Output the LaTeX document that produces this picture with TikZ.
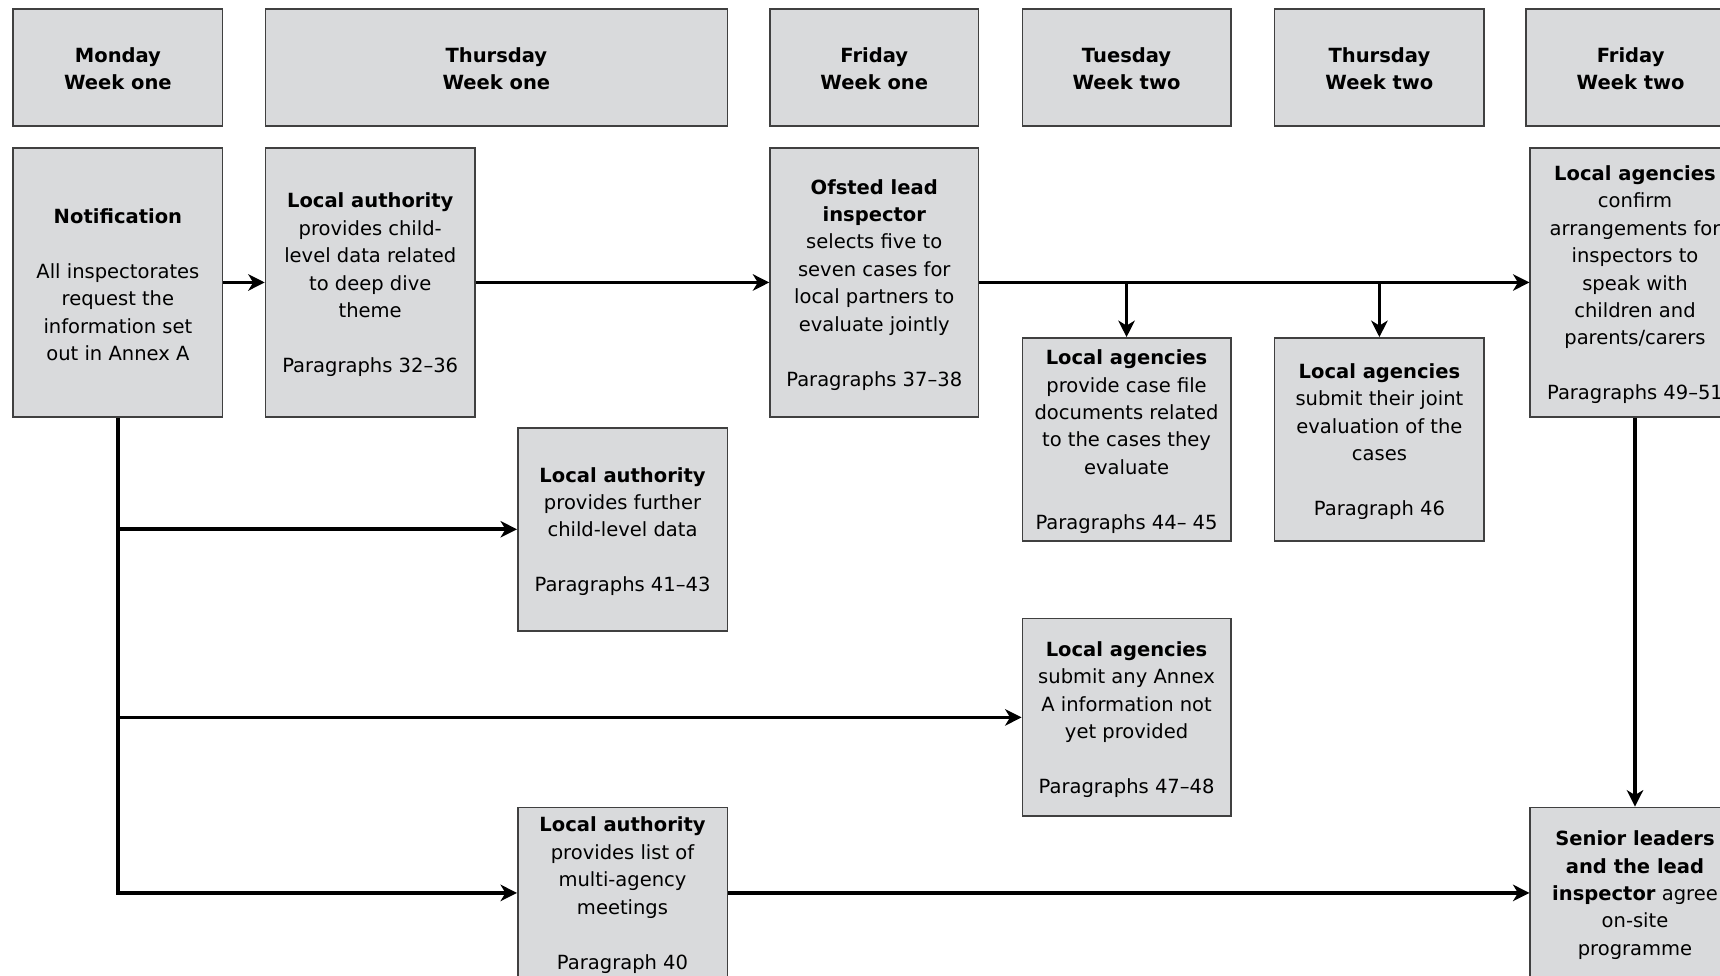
\documentclass[tikz,border=0pt]{standalone}
\usepackage{fontspec}
\setmainfont{DejaVu Sans}
\usetikzlibrary{arrows.meta}
\definecolor{boxfill}{RGB}{217,218,220}
\definecolor{boxline}{RGB}{64,64,64}
\begin{document}
\begin{tikzpicture}[x=1pt,y=-1pt,
  box/.style={draw=boxline, fill=boxfill, line width=1.4pt, minimum width=191pt, inner sep=0pt},
  txt/.style={align=center, inner sep=0pt, font=\fontsize{17.8}{25}\selectfont},
  arr/.style={line width=3.3pt, -{Stealth[length=15pt,width=15pt,inset=4.5pt]}}]
\useasboundingbox (0,0) rectangle (1568,889);
\clip (0,0) rectangle (1568,889);
% headers
\node[box, minimum height=107pt] (h1) at (107.5,61.5) {};
\node[box, minimum height=107pt, minimum width=421pt] (h2) at (452.5,61.5) {};
\node[box, minimum height=107pt, minimum width=190pt] (h3) at (797,61.5) {};
\node[box, minimum height=107pt, minimum width=190pt] (h4) at (1027,61.5) {};
\node[box, minimum height=107pt] (h5) at (1257.5,61.5) {};
\node[box, minimum height=107pt] (h6) at (1486.5,61.5) {};
\node[txt] (h1t) at ([yshift=-1pt]h1.center) {\textbf{Monday}\\\textbf{Week one}};
\node[txt] (h2t) at ([yshift=-1pt]h2.center) {\textbf{Thursday}\\\textbf{Week one}};
\node[txt] (h3t) at ([yshift=-1pt]h3.center) {\textbf{Friday}\\\textbf{Week one}};
\node[txt] (h4t) at ([yshift=-1pt]h4.center) {\textbf{Tuesday}\\\textbf{Week two}};
\node[txt] (h5t) at ([yshift=-1pt]h5.center) {\textbf{Thursday}\\\textbf{Week two}};
\node[txt] (h6t) at ([yshift=-1pt]h6.center) {\textbf{Friday}\\\textbf{Week two}};
% row boxes
\node[box, minimum height=245pt] (notif) at (107.5,257.5) {};
\node[box, minimum height=245pt] (la1) at (337.5,257.5) {};
\node[box, minimum height=245pt, minimum width=190pt] (ofsted) at (797,257.5) {};
\node[box, minimum height=245pt] (fri) at (1490.5,257.5) {};
\node[box, minimum height=185pt, minimum width=190pt] (tue) at (1027,400.5) {};
\node[box, minimum height=185pt] (thu) at (1257.5,400.5) {};
\node[box, minimum height=185pt] (la2) at (567.5,482.5) {};
\node[box, minimum height=180pt, minimum width=190pt] (ag) at (1027,654) {};
\node[box, minimum height=156pt] (la3) at (567.5,814) {};
\node[box, minimum height=156pt] (senior) at (1490.5,814) {};
% texts
\node[txt] (notift) at ([yshift=-2pt]notif.center)
  {\textbf{Notification}\\[25pt]All inspectorates\\request the\\information set\\out in Annex A};
\node[txt] (la1t) at ([yshift=-2pt]la1.center)
  {\textbf{Local authority}\\provides child-\\level data related\\to deep dive\\theme\\[25pt]Paragraphs 32–36};
\node[txt] (ofstedt) at ([yshift=-2pt]ofsted.center)
  {\textbf{Ofsted lead}\\\textbf{inspector}\\selects five to\\seven cases for\\local partners to\\evaluate jointly\\[25pt]Paragraphs 37–38};
\node[txt] (frit) at ([yshift=-2pt]fri.center)
  {\textbf{Local agencies}\\confirm\\arrangements for\\inspectors to\\speak with\\children and\\parents/carers\\[25pt]Paragraphs 49–51};
\node[txt] (tuet) at ([yshift=-2pt]tue.center)
  {\textbf{Local agencies}\\provide case file\\documents related\\to the cases they\\evaluate\\[25pt]Paragraphs 44– 45};
\node[txt] (thut) at ([yshift=-2pt]thu.center)
  {\textbf{Local agencies}\\submit their joint\\evaluation of the\\cases\\[25pt]Paragraph 46};
\node[txt] (la2t) at ([yshift=-2pt]la2.center)
  {\textbf{Local authority}\\provides further\\child-level data\\[25pt]Paragraphs 41–43};
\node[txt] (agt) at ([yshift=-2pt]ag.center)
  {\textbf{Local agencies}\\submit any Annex\\A information not\\yet provided\\[25pt]Paragraphs 47–48};
\node[txt] (la3t) at ([yshift=-2pt]la3.center)
  {\textbf{Local authority}\\provides list of\\multi-agency\\meetings\\[25pt]Paragraph 40};
\node[txt] (seniort) at ([yshift=-2pt]senior.center)
  {\textbf{Senior leaders}\\\textbf{and the lead}\\\textbf{inspector} agree\\on-site\\programme};
% connectors
\draw[arr] (notif.east) -- (la1.west);
\draw[arr] (la1.east) -- (ofsted.west);
\draw[arr] (ofsted.east) -- (fri.west);
\draw[arr] (tue.north |- ofsted.east) -- (tue.north);
\draw[arr] (thu.north |- ofsted.east) -- (thu.north);
\draw[arr] (notif.south) |- (la3.west);
\draw[arr] (notif.south |- la2.west) -- (la2.west);
\draw[arr] (notif.south |- ag.west) -- (ag.west);
\draw[arr] (la3.east) -- (senior.west);
\draw[arr] (fri.south) -- (senior.north);
\end{tikzpicture}
\end{document}
